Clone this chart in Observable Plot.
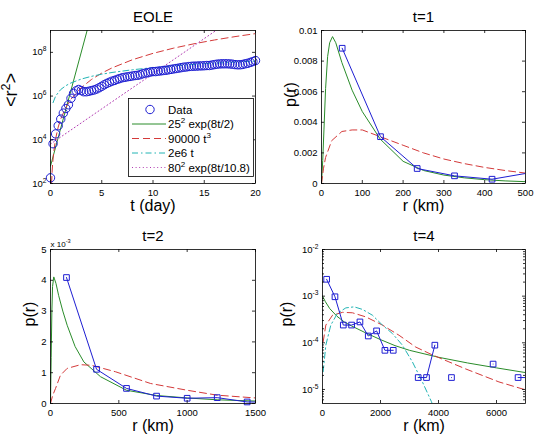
<!DOCTYPE html>
<html><head><meta charset="utf-8">
<script src="https://cdn.jsdelivr.net/npm/d3@7"></script>
<script src="https://cdn.jsdelivr.net/npm/@observablehq/plot@0.6"></script>
<style>
html,body{margin:0;padding:0;background:#fff;}
#fig{position:relative;width:535px;height:437px;background:#fff;overflow:hidden;}
#fig > svg{position:absolute;}
</style></head><body><div id="fig"></div>
<script>
// ---------- Panel 1: EOLE, <r^2> vs t ----------
const p1T = [0,0.25,0.5,0.75,1,1.25,1.5,1.75,2,2.25,2.5,2.75,3,3.25,3.5,3.75,4,4.25,4.5,4.75,5,5.25,5.5,5.75,6,6.25,6.5,6.75,7,7.25,7.5,7.75,8,8.25,8.5,8.75,9,9.25,9.5,9.75,10,10.25,10.5,10.75,11,11.25,11.5,11.75,12,12.25,12.5,12.75,13,13.25,13.5,13.75,14,14.25,14.5,14.75,15,15.25,15.5,15.75,16,16.25,16.5,16.75,17,17.25,17.5,17.75,18,18.25,18.5,18.75,19,19.25,19.5,19.75,20];
const p1R2 = [182,6.6e3,1.86e4,4.4e4,8.9e4,1.66e5,2.7e5,4.0e5,7.9e5,1.32e6,1.74e6,2.0e6,1.78e6,1.58e6,1.58e6,1.66e6,1.78e6,1.9e6,2.1e6,2.4e6,2.8e6,3.3e6,3.8e6,4.3e6,4.8e6,5.2e6,5.8e6,6.3e6,6.9e6,7.2e6,7.6e6,7.9e6,8.3e6,8.7e6,8.9e6,9.5e6,1.05e7,1.12e7,1.17e7,1.26e7,1.32e7,1.32e7,1.38e7,1.41e7,1.48e7,1.51e7,1.58e7,1.66e7,1.74e7,1.82e7,1.9e7,2.0e7,2.1e7,2.14e7,2.24e7,2.29e7,2.34e7,2.34e7,2.4e7,2.4e7,2.45e7,2.5e7,2.5e7,2.63e7,2.75e7,2.88e7,2.95e7,3.0e7,3.0e7,3.0e7,2.95e7,2.88e7,2.75e7,2.7e7,2.7e7,2.8e7,3.0e7,3.16e7,3.47e7,3.8e7,4.2e7];
const p1GreenT = [0,2,3.6];
const p1GreenR2 = [625,1.86e6,1.12e9];
const p1RedT = [0.104,0.15,0.2,0.3,0.5,0.75,1,1.5,2,3,4,5,6,8,10,12,14,16,18,20];
const p1RedR2 = [101,304,720,2430,11250,37969,9e4,303750,7.2e5,2.43e6,5.76e6,1.125e7,1.944e7,4.608e7,9e7,1.555e8,2.47e8,3.686e8,5.249e8,7.2e8];
const p1CyanT = [0.25,0.5,1,1.5,2,3,4,5,6,8,10,12,14,16,18,20];
const p1CyanR2 = [5e5,1e6,2e6,3e6,4e6,6e6,8e6,1e7,1.2e7,1.6e7,2e7,2.4e7,2.8e7,3.2e7,3.6e7,4e7];
const p1PurpleT = [0,8,16.2];
const p1PurpleR2 = [6400,2.39e6,1.04e9];
const p1XTicks = [0,5,10,15,20];
const p1YTicks = [1e2,1e4,1e6,1e8];
const p1YTickLabels = ["10^{2}","10^{4}","10^{6}","10^{8}"];
const legendLabels = ["Data","25^{2} exp(8t/2)","90000 t^{3}","2e6 t","80^{2} exp(8t/10.8)"];

// ---------- Panel 2: t=1 ----------
const p2R = [50.7,144.6,234.5,326,418,510];
const p2P = [0.00884,0.00306,0.00098,0.0005,0.00028,0.0007];
const p2GreenR = [0,3,6,10,15,20,27,35,50,75,100,144,200,250,300,350,400,450,500];
const p2GreenP = [0,0.0015,0.0035,0.0062,0.0083,0.0092,0.0096,0.0092,0.0079,0.0061,0.0047,0.0029,0.00145,0.00085,0.00055,0.00037,0.00025,0.00017,0.00012];
const p2RedR = [0,5,10,25,50,75,100,150,200,250,300,350,400,450,500];
const p2RedP = [0,0.001,0.0017,0.0028,0.0034,0.0035,0.0035,0.003,0.0025,0.002,0.0016,0.0013,0.00105,0.00085,0.00068];
const p2XTicks = [0,100,200,300,400,500];
const p2YTicks = [0,0.002,0.004,0.006,0.008,0.01];
const p2YTickLabels = ["0","0.002","0.004","0.006","0.008","0.01"];

// ---------- Panel 3: t=2 ----------
const p3R = [117,337,556,776,1000,1220,1439,1659];
const p3P = [4.09e-3,1.11e-3,0.49e-3,0.24e-3,0.17e-3,0.19e-3,0.05e-3,0.04e-3];
const p3GreenR = [0,5,10,15,24,40,60,90,122,180,244,366,556,776,1000,1220,1500];
const p3GreenP = [0,1.5e-3,3.0e-3,3.8e-3,4.11e-3,3.9e-3,3.5e-3,3.0e-3,2.54e-3,1.85e-3,1.35e-3,0.87e-3,0.43e-3,0.26e-3,0.18e-3,0.12e-3,0.08e-3];
const p3RedR = [0,15,37,73,122,220,300,476,732,1000,1220,1500];
const p3RedP = [0,0.25e-3,0.49e-3,0.92e-3,1.14e-3,1.26e-3,1.24e-3,1.03e-3,0.65e-3,0.43e-3,0.27e-3,0.18e-3];
const p3XTicks = [0,500,1000,1500];
const p3YTicks = [0,0.001,0.002,0.003,0.004,0.005];
const p3YTickLabels = ["0","1","2","3","4","5"];

// ---------- Panel 4: t=4 (log p) ----------
const p4R = [143,430,717,1004,1291,1578,1865,2152,2439,2726,3013,3300,3587,3874,4161,4448,4735,5022,5309,5596,5883,6170,6457,6744,7031];
const p4P = [2.3e-3,9.7e-4,2.4e-4,2.4e-4,2.8e-4,1.4e-4,1.8e-4,6.9e-5,6.9e-5,null,null,1.8e-5,1.8e-5,8.9e-5,null,1.8e-5,null,null,null,null,3.5e-5,null,null,1.8e-5,1.8e-5];
const p4GreenR = [0,100,250,500,750,1000,1500,2000,2500,3000,4000,5000,6000,7000];
const p4GreenP = [1.0e-3,7.6e-4,5.4e-4,3.7e-4,2.8e-4,2.3e-4,1.62e-4,1.17e-4,8.7e-5,6.9e-5,4.9e-5,3.7e-5,2.9e-5,2.3e-5];
const p4RedR = [23,115,345,690,1033,1490,2066,2640,3215,3790,4360,4940,5510,6085,7000];
const p4RedP = [1.05e-4,2.4e-4,3.9e-4,4.5e-4,4.4e-4,3.6e-4,2.4e-4,1.45e-4,8.1e-5,5.5e-5,3.9e-5,2.75e-5,2.0e-5,1.45e-5,9.8e-6];
const p4CyanR = [23,115,287,517,804,1090,1378,1722,2066,2411,2755,3100,3445,3755,3900];
const p4CyanP = [2.4e-5,8.9e-5,2.4e-4,4.3e-4,5.6e-4,5.9e-4,5.2e-4,3.9e-4,2.4e-4,1.58e-4,8.9e-5,3.9e-5,1.45e-5,5.5e-6,3.2e-6];
const p4XTicks = [0,2000,4000,6000];
const p4YTicks = [1e-5,1e-4,1e-3,1e-2];
const p4YTickLabels = ["10^{-5}","10^{-4}","10^{-3}","10^{-2}"];

// ---------- styling ----------
const FONT = '"Liberation Sans", Arial, Helvetica, sans-serif';
const BLUE = "#1e1ed2", GREEN = "#2a8c2a", RED = "#d43a3a", CYAN = "#22b4b4", MAGENTA = "#b23cb2";
const DASH = "7,4", DASHDOT = "6,3,1.5,3", DOT = "1,2.6";

const zip = (xs, ys) => xs.map((x, i) => ({x, y: ys[i]}));
const fmt = (ticks, labels) => d => labels[ticks.indexOf(d)];
const plain = d => String(d);

function tickRules(xT, yT, fw, fh, len, yMinor) {
  const o = {stroke: "#000", strokeWidth: 0.8};
  const m = [
    Plot.ruleX(xT, {...o, insetTop: fh - len}),
    Plot.ruleX(xT, {...o, insetBottom: fh - len}),
    Plot.ruleY(yT, {...o, insetRight: fw - len}),
    Plot.ruleY(yT, {...o, insetLeft: fw - len})
  ];
  if (yMinor && yMinor.length) {
    m.push(Plot.ruleY(yMinor, {...o, insetRight: fw - 2}));
    m.push(Plot.ruleY(yMinor, {...o, insetLeft: fw - 2}));
  }
  return m;
}

function richify(svg) {
  d3.select(svg).selectAll("text").each(function () {
    const t = this.textContent;
    if (!t.includes("^{")) return;
    const fs = parseFloat(getComputedStyle(this).fontSize) || 10;
    const el = d3.select(this);
    el.selectAll("*").remove();
    el.text(null);
    const parts = t.split(/\^\{([^}]*)\}/);
    let shifted = false;
    parts.forEach((p, i) => {
      if (p === "") return;
      const sp = el.append("tspan").text(p);
      if (i % 2 === 1) {
        sp.attr("font-size", (fs * 0.7) + "px").attr("dy", -0.42 * fs);
        shifted = true;
      } else if (shifted) {
        sp.attr("dy", 0.42 * fs);
        shifted = false;
      }
    });
  });
}

const fig = document.getElementById("fig");

function panel(cfg) {
  const {left, top, width, height, mL, mR, mT, mB, x, y, marks, title, xLabel, yLabel, yLabelDx, yLabelSize, yMinor, extra} = cfg;
  const fw = width - mL - mR, fh = height - mT - mB;
  const svg = Plot.plot({
    width, height, marginLeft: mL, marginRight: mR, marginTop: mT, marginBottom: mB,
    x: {tickFormat: plain, ...x, tickSize: 0, tickPadding: 6, label: null},
    y: {...y, tickSize: 0, tickPadding: 4, label: null},
    style: {fontFamily: FONT, fontSize: "9.5px", color: "#000", background: "transparent", overflow: "visible"},
    marks: [
      ...marks,
      ...tickRules(x.ticks, y.ticks, fw, fh, 3, yMinor),
      Plot.frame({stroke: "#000", strokeWidth: 0.8}),
      Plot.text([title], {text: d => d, frameAnchor: "top", lineAnchor: "bottom", dy: -9, fontSize: 15}),
      Plot.text([xLabel], {text: d => d, frameAnchor: "bottom", lineAnchor: "bottom", dy: 27, fontSize: 16}),
      Plot.text([yLabel], {text: d => d, frameAnchor: "left", rotate: -90, dx: yLabelDx, fontSize: yLabelSize || 16}),
      ...(extra || [])
    ]
  });
  svg.style.left = left + "px";
  svg.style.top = top + "px";
  fig.appendChild(svg);
  return svg;
}

// Panel 1
const p1Data = zip(p1T, p1R2);
const svg1 = panel({
  left: 0, top: 0, width: 267, height: 218, mL: 50, mR: 12, mT: 30, mB: 35,
  x: {domain: [0, 20], ticks: p1XTicks},
  y: {type: "log", domain: [1e2, 1e9], ticks: p1YTicks, tickFormat: fmt(p1YTicks, p1YTickLabels)},
  title: "EOLE", xLabel: "t (day)", yLabel: "<r^{2}>", yLabelDx: -39, yLabelSize: 18,
  marks: [
    Plot.line(zip(p1GreenT, p1GreenR2), {x: "x", y: "y", stroke: GREEN, strokeWidth: 1, clip: true}),
    Plot.line(zip(p1RedT, p1RedR2), {x: "x", y: "y", stroke: RED, strokeWidth: 1, strokeDasharray: DASH, clip: true}),
    Plot.line(zip(p1CyanT, p1CyanR2), {x: "x", y: "y", stroke: CYAN, strokeWidth: 1, strokeDasharray: DASHDOT, clip: true}),
    Plot.line(zip(p1PurpleT, p1PurpleR2), {x: "x", y: "y", stroke: MAGENTA, strokeWidth: 1, strokeDasharray: DOT, clip: true}),
    Plot.dot(p1Data, {x: "x", y: "y", r: 4.2, stroke: BLUE, fill: "none", strokeWidth: 1})
  ]
});

// Legend for panel 1
(function () {
  const strokes = [BLUE, GREEN, RED, CYAN, MAGENTA];
  const dashes = [null, null, DASH, DASHDOT, DOT];
  const g = d3.select(svg1).append("g").attr("font-size", "11.5px").attr("text-anchor", "start");
  const bx = 128.5, by = 98.5, bw = 125, bh = 78;
  g.append("rect").attr("x", bx).attr("y", by).attr("width", bw).attr("height", bh)
    .attr("fill", "#fff").attr("stroke", "#000").attr("stroke-width", 0.8);
  legendLabels.forEach((lab, i) => {
    const cy = by + 11 + i * 14.5;
    if (i === 0) {
      g.append("circle").attr("cx", 150).attr("cy", cy).attr("r", 4.2)
        .attr("fill", "none").attr("stroke", strokes[i]).attr("stroke-width", 1);
    } else {
      g.append("line").attr("x1", 132).attr("x2", 166).attr("y1", cy).attr("y2", cy)
        .attr("stroke", strokes[i]).attr("stroke-width", 1)
        .attr("stroke-dasharray", dashes[i]);
    }
    g.append("text").attr("x", 168).attr("y", cy).attr("dy", "0.35em")
      .attr("text-anchor", "start").text(lab);
  });
})();
richify(svg1);

// Panel 2
const p2Data = zip(p2R, p2P);
const svg2 = panel({
  left: 267, top: 0, width: 268, height: 218, mL: 54, mR: 10, mT: 30, mB: 35,
  x: {domain: [0, 500], ticks: p2XTicks},
  y: {domain: [0, 0.01], ticks: p2YTicks, tickFormat: fmt(p2YTicks, p2YTickLabels)},
  title: "t=1", xLabel: "r (km)", yLabel: "p(r)", yLabelDx: -31,
  marks: [
    Plot.line(zip(p2GreenR, p2GreenP), {x: "x", y: "y", stroke: GREEN, strokeWidth: 1, clip: true}),
    Plot.line(zip(p2RedR, p2RedP), {x: "x", y: "y", stroke: RED, strokeWidth: 1, strokeDasharray: DASH, clip: true}),
    Plot.line(p2Data, {x: "x", y: "y", stroke: BLUE, strokeWidth: 1, clip: true}),
    Plot.dot(p2Data, {x: "x", y: "y", filter: d => d.x <= 500, symbol: "square", r: 3.2, stroke: BLUE, fill: "none", strokeWidth: 1})
  ]
});
richify(svg2);

// Panel 3
const p3Data = zip(p3R, p3P);
const svg3 = panel({
  left: 0, top: 218, width: 267, height: 219, mL: 50, mR: 12, mT: 31, mB: 34,
  x: {domain: [0, 1500], ticks: p3XTicks},
  y: {domain: [0, 0.005], ticks: p3YTicks, tickFormat: fmt(p3YTicks, p3YTickLabels)},
  title: "t=2", xLabel: "r (km)", yLabel: "p(r)", yLabelDx: -21,
  marks: [
    Plot.line(zip(p3GreenR, p3GreenP), {x: "x", y: "y", stroke: GREEN, strokeWidth: 1, clip: true}),
    Plot.line(zip(p3RedR, p3RedP), {x: "x", y: "y", stroke: RED, strokeWidth: 1, strokeDasharray: DASH, clip: true}),
    Plot.line(p3Data, {x: "x", y: "y", stroke: BLUE, strokeWidth: 1, clip: true}),
    Plot.dot(p3Data, {x: "x", y: "y", filter: d => d.x <= 1500, symbol: "square", r: 3.2, stroke: BLUE, fill: "none", strokeWidth: 1})
  ],
  extra: [
    Plot.text(["x 10^{-3}"], {text: d => d, frameAnchor: "top-left", textAnchor: "start", lineAnchor: "bottom", dy: -3, fontSize: 8})
  ]
});
richify(svg3);

// Panel 4
const p4Minor = [];
for (let e = -6; e <= -3; e++) for (let m = 2; m <= 9; m++) {
  const v = m * Math.pow(10, e);
  if (v > 5e-6 && v < 1e-2) p4Minor.push(v);
}
const p4Data = zip(p4R, p4P);
const svg4 = panel({
  left: 267, top: 218, width: 268, height: 219, mL: 55, mR: 10, mT: 31, mB: 34,
  x: {domain: [0, 7000], ticks: p4XTicks},
  y: {type: "log", domain: [5e-6, 1e-2], ticks: p4YTicks, tickFormat: fmt(p4YTicks, p4YTickLabels)},
  yMinor: p4Minor,
  title: "t=4", xLabel: "r (km)", yLabel: "p(r)", yLabelDx: -36,
  marks: [
    Plot.line(zip(p4GreenR, p4GreenP), {x: "x", y: "y", stroke: GREEN, strokeWidth: 1, clip: true}),
    Plot.line(zip(p4RedR, p4RedP), {x: "x", y: "y", stroke: RED, strokeWidth: 1, strokeDasharray: DASH, clip: true}),
    Plot.line(zip(p4CyanR, p4CyanP), {x: "x", y: "y", stroke: CYAN, strokeWidth: 1, strokeDasharray: DASHDOT, clip: true}),
    Plot.line(p4Data, {x: "x", y: "y", stroke: BLUE, strokeWidth: 1, clip: true}),
    Plot.dot(p4Data, {x: "x", y: "y", filter: d => d.y != null && d.x <= 7000, symbol: "square", r: 3.2, stroke: BLUE, fill: "none", strokeWidth: 1})
  ]
});
richify(svg4);
</script></body></html>
